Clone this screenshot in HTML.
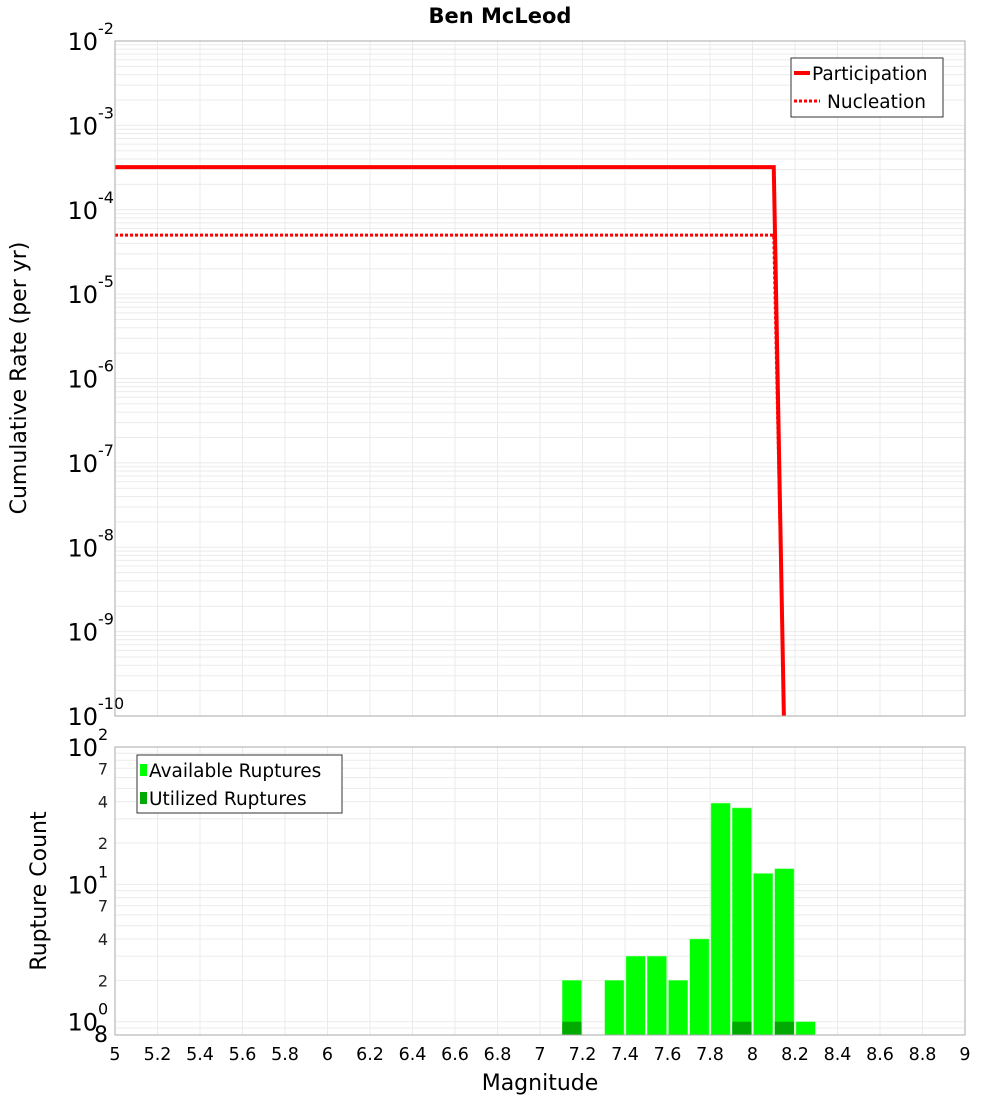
<!DOCTYPE html>
<html><head><meta charset="utf-8"><style>
body{margin:0;background:#fff;}
svg{display:block;font-family:"DejaVu Sans","Liberation Sans",sans-serif;}
</style></head><body>
<svg id="c" width="1000" height="1100" xmlns="http://www.w3.org/2000/svg"></svg>
<script>
// ---- data ----
const xTicks=[5,5.2,5.4,5.6,5.8,6,6.2,6.4,6.6,6.8,7,7.2,7.4,7.6,7.8,8,8.2,8.4,8.6,8.8,9];
const topDecades=[-2,-3,-4,-5,-6,-7,-8,-9,-10];
const partMag=[5,8.1,8.155];
const partRate=[3.2e-4,3.2e-4,1e-11];
const nuclMag=[5,8.1,8.14];
const nuclRate=[5e-5,5e-5,1e-9];
const binCenters=[7.15,7.25,7.35,7.45,7.55,7.65,7.75,7.85,7.95,8.05,8.15,8.25];
const availCounts=[2,0,2,3,3,2,4,39,36,12,13,1];
const usedCounts=[1,0,0,0,0,0,0,0,1,0,1,0];
const botTickVals=[7,4,2,7,4,2];
const botTickPos=[70,40,20,7,4,2];

const NS="http://www.w3.org/2000/svg";
const svg=document.getElementById('c');
function mk(t,a,p){const e=document.createElementNS(NS,t);for(const k in a)e.setAttribute(k,a[k]);(p||svg).appendChild(e);return e;}
const X0=115,X1=965;
const xs=m=>X0+(m-5)/4*(X1-X0);
const T0=41,T1=716;
const yT=v=>T0+(-2-Math.log10(v))/8*(T1-T0);
const B0=747,B1=1035,bLo=Math.log10(0.8),bHi=2;
const yB=v=>B0+(bHi-Math.log10(v))/(bHi-bLo)*(B1-B0);

let t=mk('text',{x:500,y:23,'text-anchor':'middle','font-size':21,'font-weight':'bold'});
t.textContent='Ben McLeod';

// grids
const grid=mk('g',{stroke:'#ebebeb','stroke-width':1});

xTicks.forEach(m=>{mk('line',{x1:xs(m),x2:xs(m),y1:T0,y2:T1},grid);mk('line',{x1:xs(m),x2:xs(m),y1:B0,y2:B1},grid);});
for(let d=-10;d<-2;d++)for(let k=1;k<10;k++){const y=yT(k*Math.pow(10,d));mk('line',{x1:X0,x2:X1,y1:y,y2:y},grid);}
for(let d=-1;d<2;d++)for(let k=1;k<10;k++){const v=k*Math.pow(10,d);if(v<0.8)continue;const y=yB(v);mk('line',{x1:X0,x2:X1,y1:y,y2:y},grid);}

// top axis labels
topDecades.forEach(d=>{const y=yT(Math.pow(10,d));
 const g=mk('text',{x:98,y:y+9,'text-anchor':'end','font-size':24});
 
 g.textContent='10';
 const s=mk('text',{x:98,y:y-7,'font-size':16});s.textContent=String(d);});

// series
const clip=mk('clipPath',{id:'tc'});mk('rect',{x:X0,y:T0,width:X1-X0,height:T1-T0},clip);
const pl=mk('polyline',{points:partMag.map((m,i)=>xs(m)+','+yT(partRate[i])).join(' '),fill:'none',stroke:'#f00','stroke-width':4,'clip-path':'url(#tc)'});

const nl=mk('polyline',{points:nuclMag.map((m,i)=>xs(m)+','+yT(nuclRate[i])).join(' '),fill:'none',stroke:'#f00','stroke-width':3,'stroke-dasharray':'3,2','clip-path':'url(#tc)'});


let f=mk('rect',{x:X0,y:T0,width:X1-X0,height:T1-T0,fill:'none',stroke:'#aaa'});


// top legend
const lg=mk('g',{});
mk('rect',{x:791,y:58,width:152,height:59,fill:'#fff',stroke:'#333'},lg);
mk('line',{x1:794,x2:810,y1:73,y2:73,stroke:'#f00','stroke-width':4},lg);
mk('line',{x1:794,x2:820,y1:101,y2:101,stroke:'#f00','stroke-width':3,'stroke-dasharray':'3,2'},lg);
let a=mk('text',{x:812,y:80,'font-size':18.5},lg);a.textContent='Participation';
a=mk('text',{x:827,y:108,'font-size':18.5},lg);a.textContent='Nucleation';

t=mk('text',{x:0,y:0,'font-size':22,'text-anchor':'middle',transform:'translate(26,378) rotate(-90)'});
t.textContent='Cumulative Rate (per yr)';

// bottom bars
const bw=(xs(7.2)-xs(7.1));
binCenters.forEach((m,i)=>{if(availCounts[i]>0){const y=yB(availCounts[i]);
 const r=mk('rect',{x:xs(m)-bw/2+1,y:y,width:bw-2,height:B1-y,fill:'#00ff00',stroke:'#7fff7f','stroke-width':0.5});
 }
 if(usedCounts[i]>0){const y=yB(usedCounts[i]);
 const r=mk('rect',{x:xs(m)-bw/2+1,y:y,width:bw-2,height:B1-y,fill:'#00aa00'});
 }});
f=mk('rect',{x:X0,y:B0,width:X1-X0,height:B1-B0,fill:'none',stroke:'#aaa'});


[[100,'2'],[10,'1'],[1,'0']].forEach(([v,e])=>{const y=yB(v);
 const g=mk('text',{x:98,y:y+9,'text-anchor':'end','font-size':24});g.textContent='10';
 const s=mk('text',{x:98,y:y-7,'font-size':16});s.textContent=e;});
botTickPos.forEach((v,i)=>{const g=mk('text',{x:108,y:yB(v)+6,'text-anchor':'end','font-size':16,fill:'#222'});
 g.textContent=String(botTickVals[i]);});
t=mk('text',{x:108,y:1042,'text-anchor':'end','font-size':22});t.textContent='8';

const bl=mk('g',{});
mk('rect',{x:137,y:755,width:205,height:58,fill:'#fff',stroke:'#333'},bl);
mk('rect',{x:140,y:764,width:7,height:12,fill:'#00ff00'},bl);
mk('rect',{x:140,y:792,width:7,height:12,fill:'#00aa00'},bl);
a=mk('text',{x:149,y:777,'font-size':18.5},bl);a.textContent='Available Ruptures';
a=mk('text',{x:149,y:805,'font-size':18.5},bl);a.textContent='Utilized Ruptures';

t=mk('text',{x:0,y:0,'font-size':22,'text-anchor':'middle',transform:'translate(46,891) rotate(-90)'});
t.textContent='Rupture Count';

xTicks.forEach(m=>{const g=mk('text',{x:xs(m),y:1060,'text-anchor':'middle','font-size':17.5});
 g.textContent=String(m);});
t=mk('text',{x:540,y:1090,'text-anchor':'middle','font-size':22});t.textContent='Magnitude';
</script>
</body></html>
